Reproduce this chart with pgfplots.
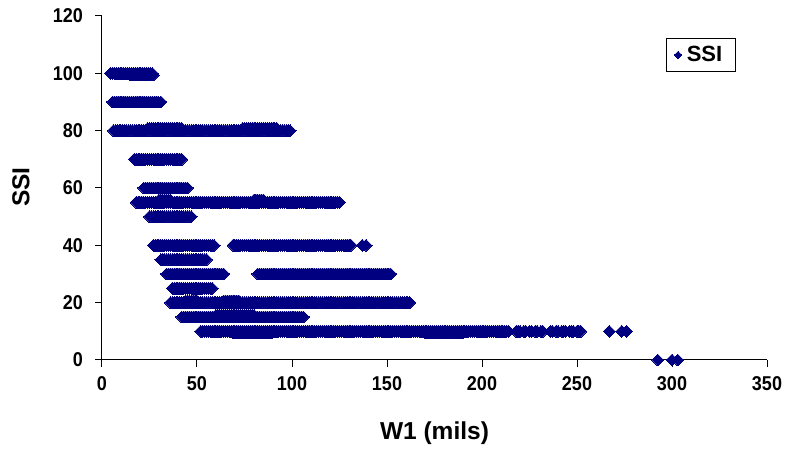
\documentclass[border=0pt]{standalone}
\usepackage{pgfplots}
\pgfplotsset{compat=1.18}
\usepackage{fontspec}
\setmainfont{Liberation Sans}
\newfontfamily\tickfont[FakeStretch=0.9]{Liberation Sans}
\definecolor{navy}{RGB}{0,0,128}
\begin{document}
\begin{tikzpicture}
\path[use as bounding box] (-102pt,-97pt) rectangle (688pt,360pt);
\begin{axis}[
 scale only axis, width=665pt, height=344pt,
 xmin=0, xmax=350, ymin=0, ymax=120,
 xtick={0,50,...,350}, ytick={0,20,...,120},
 axis x line*=bottom, axis y line*=left,
 axis line style={line width=1pt,-},
 tick align=outside, major tick length=7pt,
 tick style={line width=1pt,black},
 /pgf/number format/assume math mode=true,
 ticklabel style={font=\tickfont\bfseries\fontsize{20}{20}\selectfont},
 yticklabel style={inner sep=0pt, anchor=east, xshift=-12pt},
 xticklabel style={inner sep=0pt, anchor=north, yshift=-9pt},
 xlabel={W1 (mils)}, ylabel={SSI},
 label style={font=\bfseries\fontsize{24.5}{25}\selectfont},
 xlabel style={at={(axis description cs:0.5,0)}, anchor=base, yshift=-80pt},
 ylabel style={at={(axis description cs:0,0.5)}, anchor=center, yshift=81pt, xshift=1pt},
 clip=false,
 legend style={at={(0.953,0.936)}, anchor=north east, draw=black, line width=1pt,
   font=\bfseries\fontsize{22}{22}\selectfont, inner xsep=8pt, inner ysep=6pt,
   nodes={inner xsep=5pt}},
 legend cell align=left,
]
\addplot[only marks, mark=square*, mark size=4.2pt, mark options={rotate=45, fill=navy, draw=navy, line width=0pt}, color=navy,
 legend image post style={mark size=2.6pt}]
coordinates {
% SSI = 100
(4.5,100)(5.5,100)(6.5,100)(7.5,100)(8.5,100)(9.5,100)(10.5,100)(11.5,100)(12.5,100)(13.5,100)(14.5,100)(15.5,100)
(16.5,100)(17.5,100)(18.5,100)(19.5,100)(20.5,100)(21.5,100)(22.5,100)(23.5,100)(24.5,100)(25.5,100)(26.5,100)
(15,99.4)(16,99.4)(17,99.4)(18,99.4)(19,99.4)(20,99.4)(21,99.4)(22,99.4)(23,99.4)(24,99.4)(25,99.4)(26,99.4)(27,99.4)
% SSI = 90
(5.5,90)(6.5,90)(7.5,90)(8.5,90)(9.5,90)(10.5,90)(11.5,90)(12.5,90)(13.5,90)(14.5,90)(15.5,90)(16.5,90)(17.5,90)
(18.5,90)(19.5,90)(20.5,90)(21.5,90)(22.5,90)(23.5,90)(24.5,90)(25.5,90)(26.5,90)(27.5,90)(28.5,90)(29.5,90)(31,90)
% SSI = 80
(6,80)(7,80)(8,80)(9,80)(10,80)(11,80)(12,80)(13,80)(14,80)(15,80)(16,80)(17,80)(18,80)(19,80)(20,80)(21,80)(22,80)
(23,80)(24,80)(25,80)(26,80)(27,80)(28,80)(29,80)(30,80)(31,80)(32,80)(33,80)(34,80)(35,80)(36,80)(37,80)(38,80)(39,80)
(40,80)(41,80)(42,80)(43,80)(44,80)(45,80)(46,80)(47,80)(48,80)(49,80)(50,80)(51,80)(52,80)(53,80)(54,80)(55,80)(56,80)
(57,80)(58,80)(59,80)(60,80)(61,80)(62,80)(63,80)(64,80)(65,80)(66,80)(67,80)(68,80)(69,80)(70,80)(71,80)(72,80)(73,80)
(74,80)(75,80)(76,80)(77,80)(78,80)(79,80)(80,80)(81,80)(82,80)(83,80)(84,80)(85,80)(86,80)(87,80)(88,80)(89,80)(90,80)
(91,80)(92,80)(93,80)(94,80)(95,80)(96,80)(97,80)(98,80)(99,80)
(24,80.8)(25,80.8)(26,80.8)(27,80.8)(28,80.8)(29,80.8)(30,80.8)(31,80.8)(32,80.8)(33,80.8)(34,80.8)(35,80.8)(36,80.8)
(37,80.8)(38,80.8)(39,80.8)(40,80.8)(41,80.8)(42,80.8)
(74,80.8)(75,80.8)(76,80.8)(77,80.8)(78,80.8)(79,80.8)(80,80.8)(81,80.8)(82,80.8)(83,80.8)(84,80.8)(85,80.8)(86,80.8)
(87,80.8)(88,80.8)(89,80.8)(90,80.8)(91,80.8)(92,80.8)
% SSI = 70
(17,70)(18,70)(19,70)(20,70)(21,70)(22,70)(23,70)(24,70)(25,70)(26,70)(27,70)(28,70)(29,70)(30,70)(31,70)(32,70)(33,70)
(34,70)(35,70)(36,70)(37,70)(38,70)(39,70)(40,70)(41,70)(42,70)
% SSI = 60
(22,60)(23,60)(24,60)(25,60)(26,60)(27,60)(28,60)(29,60)(30,60)(31,60)(32,60)(33,60)(34,60)(35,60)(36,60)(37,60)(38,60)
(39,60)(40,60)(41,60)(42,60)(43,60)(44,60)(45,60)
% SSI = 55
(18,55)(19,55)(20,55)(21,55)(22,55)(23,55)(24,55)(25,55)(26,55)(27,55)(28,55)(29,55)(30,55)(31,55)(32,55)(33,55)(34,55)
(35,55)(36,55)(37,55)(38,55)(39,55)(40,55)(41,55)(42,55)(43,55)(44,55)(45,55)(46,55)(47,55)(48,55)(49,55)(50,55)(51,55)
(52,55)(53,55)(54,55)(55,55)(56,55)(57,55)(58,55)(59,55)(60,55)(61,55)(62,55)(63,55)(64,55)(65,55)(66,55)(67,55)(68,55)
(69,55)(70,55)(71,55)(72,55)(73,55)(74,55)(75,55)(76,55)(77,55)(78,55)(79,55)(80,55)(81,55)(82,55)(83,55)(84,55)(85,55)
(86,55)(87,55)(88,55)(89,55)(90,55)(91,55)(92,55)(93,55)(94,55)(95,55)(96,55)(97,55)(98,55)(99,55)(100,55)(101,55)
(102,55)(103,55)(104,55)(105,55)(106,55)(107,55)(108,55)(109,55)(110,55)(111,55)(112,55)(113,55)(114,55)(115,55)
(116,55)(117,55)(118,55)(119,55)(120,55)(121,55)(122,55)(123,55)(124,55)(125,55)
(30,55.8)(31,55.8)(32,55.8)(33,55.8)(34,55.8)(35,55.8)(36,55.8)(80,55.8)(81,55.8)(82,55.8)(83,55.8)(84,55.8)(85,55.8)
% SSI = 50
(25,50)(26,50)(27,50)(28,50)(29,50)(30,50)(31,50)(32,50)(33,50)(34,50)(35,50)(36,50)(37,50)(38,50)(39,50)(40,50)(41,50)
(42,50)(43,50)(44,50)(45,50)(46,50)(47,50)
% SSI = 40
(27,40)(28,40)(29,40)(30,40)(31,40)(32,40)(33,40)(34,40)(35,40)(36,40)(37,40)(38,40)(39,40)(40,40)(41,40)(42,40)(43,40)
(44,40)(45,40)(46,40)(47,40)(48,40)(49,40)(50,40)(51,40)(52,40)(53,40)(54,40)(55,40)(56,40)(57,40)(58,40)(59,40)
(69,40)(70,40)(71,40)(72,40)(73,40)(74,40)(75,40)(76,40)(77,40)(78,40)(79,40)(80,40)(81,40)(82,40)(83,40)(84,40)(85,40)
(86,40)(87,40)(88,40)(89,40)(90,40)(91,40)(92,40)(93,40)(94,40)(95,40)(96,40)(97,40)(98,40)(99,40)(100,40)(101,40)
(102,40)(103,40)(104,40)(105,40)(106,40)(107,40)(108,40)(109,40)(110,40)(111,40)(112,40)(113,40)(114,40)(115,40)
(116,40)(117,40)(118,40)(119,40)(120,40)(121,40)(122,40)(123,40)(124,40)(125,40)(126,40)(127,40)(128,40)(129,40)
(130,40)(131,40)(137,40)(139,40)
% SSI = 35
(31,35)(32,35)(33,35)(34,35)(35,35)(36,35)(37,35)(38,35)(39,35)(40,35)(41,35)(42,35)(43,35)(44,35)(45,35)(46,35)(47,35)
(48,35)(49,35)(50,35)(51,35)(52,35)(53,35)(54,35)(55,35)
% SSI = 30
(34,30)(35,30)(36,30)(37,30)(38,30)(39,30)(40,30)(41,30)(42,30)(43,30)(44,30)(45,30)(46,30)(47,30)(48,30)(49,30)(50,30)
(51,30)(52,30)(53,30)(54,30)(55,30)(56,30)(57,30)(58,30)(59,30)(60,30)(61,30)(62,30)(63,30)(64,30)
(82,30)(83,30)(84,30)(85,30)(86,30)(87,30)(88,30)(89,30)(90,30)(91,30)(92,30)(93,30)(94,30)(95,30)(96,30)(97,30)(98,30)
(99,30)(100,30)(101,30)(102,30)(103,30)(104,30)(105,30)(106,30)(107,30)(108,30)(109,30)(110,30)(111,30)(112,30)
(113,30)(114,30)(115,30)(116,30)(117,30)(118,30)(119,30)(120,30)(121,30)(122,30)(123,30)(124,30)(125,30)(126,30)
(127,30)(128,30)(129,30)(130,30)(131,30)(132,30)(133,30)(134,30)(135,30)(136,30)(137,30)(138,30)(139,30)(140,30)
(141,30)(142,30)(143,30)(144,30)(145,30)(146,30)(147,30)(148,30)(149,30)(150,30)(151,30)(152,30)
% SSI = 25
(37,25)(38,25)(39,25)(40,25)(41,25)(42,25)(43,25)(44,25)(45,25)(46,25)(47,25)(48,25)(49,25)(50,25)(51,25)(52,25)(53,25)
(54,25)(55,25)(56,25)(57,25)(58,25)
% SSI = 20
(36,20)(37,20)(38,20)(39,20)(40,20)(41,20)(42,20)(43,20)(44,20)(45,20)(46,20)(47,20)(48,20)(49,20)(50,20)(51,20)(52,20)
(53,20)(54,20)(55,20)(56,20)(57,20)(58,20)(59,20)(60,20)(61,20)(62,20)(63,20)(64,20)(65,20)(66,20)(67,20)(68,20)(69,20)
(70,20)(71,20)(72,20)(73,20)(74,20)(75,20)(76,20)(77,20)(78,20)(79,20)(80,20)(81,20)(82,20)(83,20)(84,20)(85,20)(86,20)
(87,20)(88,20)(89,20)(90,20)(91,20)(92,20)(93,20)(94,20)(95,20)(96,20)(97,20)(98,20)(99,20)(100,20)(101,20)(102,20)
(103,20)(104,20)(105,20)(106,20)(107,20)(108,20)(109,20)(110,20)(111,20)(112,20)(113,20)(114,20)(115,20)(116,20)
(117,20)(118,20)(119,20)(120,20)(121,20)(122,20)(123,20)(124,20)(125,20)(126,20)(127,20)(128,20)(129,20)(130,20)
(131,20)(132,20)(133,20)(134,20)(135,20)(136,20)(137,20)(138,20)(139,20)(140,20)(141,20)(142,20)(143,20)(144,20)
(145,20)(146,20)(147,20)(148,20)(149,20)(150,20)(151,20)(152,20)(153,20)(154,20)(155,20)(156,20)(157,20)(158,20)
(159,20)(160,20)(161,20)(162,20)
(44,20.6)(45,20.6)(46,20.6)(47,20.6)(48,20.6)(49,20.6)(50,20.6)(64,20.6)(65,20.6)(66,20.6)(67,20.6)(68,20.6)(69,20.6)
(70,20.6)(71,20.6)(72,20.6)
% SSI = 15
(42,15)(43,15)(44,15)(45,15)(46,15)(47,15)(48,15)(49,15)(50,15)(51,15)(52,15)(53,15)(54,15)(55,15)(56,15)(57,15)(58,15)
(59,15)(60,15)(61,15)(62,15)(63,15)(64,15)(65,15)(66,15)(67,15)(68,15)(69,15)(70,15)(71,15)(72,15)(73,15)(74,15)(75,15)
(76,15)(77,15)(78,15)(79,15)(80,15)(81,15)(82,15)(83,15)(84,15)(85,15)(86,15)(87,15)(88,15)(89,15)(90,15)(91,15)(92,15)
(93,15)(94,15)(95,15)(96,15)(97,15)(98,15)(99,15)(100,15)(101,15)(102,15)(103,15)(104,15)(105,15)(106,15)
(60,15.6)(61,15.6)(62,15.6)(63,15.6)(64,15.6)(65,15.6)(66,15.6)(67,15.6)(68,15.6)(69,15.6)(70,15.6)(71,15.6)(72,15.6)
(73,15.6)(74,15.6)(75,15.6)(76,15.6)(77,15.6)(78,15.6)(79,15.6)(80,15.6)
% SSI = 10
(52,10)(53,10)(54,10)(55,10)(56,10)(57,10)(58,10)(59,10)(60,10)(61,10)(62,10)(63,10)(64,10)(65,10)(66,10)(67,10)(68,10)
(69,10)(70,10)(71,10)(72,10)(73,10)(74,10)(75,10)(76,10)(77,10)(78,10)(79,10)(80,10)(81,10)(82,10)(83,10)(84,10)(85,10)
(86,10)(87,10)(88,10)(89,10)(90,10)(91,10)(92,10)(93,10)(94,10)(95,10)(96,10)(97,10)(98,10)(99,10)(100,10)(101,10)
(102,10)(103,10)(104,10)(105,10)(106,10)(107,10)(108,10)(109,10)(110,10)(111,10)(112,10)(113,10)(114,10)(115,10)
(116,10)(117,10)(118,10)(119,10)(120,10)(121,10)(122,10)(123,10)(124,10)(125,10)(126,10)(127,10)(128,10)(129,10)
(130,10)(131,10)(132,10)(133,10)(134,10)(135,10)(136,10)(137,10)(138,10)(139,10)(140,10)(141,10)(142,10)(143,10)
(144,10)(145,10)(146,10)(147,10)(148,10)(149,10)(150,10)(151,10)(152,10)(153,10)(154,10)(155,10)(156,10)(157,10)
(158,10)(159,10)(160,10)(161,10)(162,10)(163,10)(164,10)(165,10)(166,10)(167,10)(168,10)(169,10)(170,10)(171,10)
(172,10)(173,10)(174,10)(175,10)(176,10)(177,10)(178,10)(179,10)(180,10)(181,10)(182,10)(183,10)(184,10)(185,10)
(186,10)(187,10)(188,10)(189,10)(190,10)(191,10)(192,10)(193,10)(194,10)(195,10)(196,10)(197,10)(198,10)(199,10)
(200,10)(201,10)(202,10)(203,10)(204,10)(205,10)(206,10)(207,10)(208,10)(209,10)(210,10)(211,10)(212,10)(213,10)
(214,10)(218,10)(219,10)(220,10)(222,10)(223,10)(225,10)(226,10)(228,10)(229,10)(231,10)(232,10)
(236,10)(237,10)(239,10)(240,10)(242,10)(243,10)(244,10)(246,10)(247,10)(248,10)(250,10)(251,10)(252,10)
(69,9.4)(70,9.4)(71,9.4)(72,9.4)(73,9.4)(74,9.4)(75,9.4)(76,9.4)(77,9.4)(78,9.4)(79,9.4)(80,9.4)(81,9.4)(82,9.4)(83,9.4)
(84,9.4)(85,9.4)(86,9.4)(87,9.4)(88,9.4)(89,9.4)
(170,9.5)(171,9.5)(172,9.5)(173,9.5)(174,9.5)(175,9.5)(176,9.5)(177,9.5)(178,9.5)(179,9.5)(180,9.5)(181,9.5)(182,9.5)
(183,9.5)(184,9.5)(185,9.5)(186,9.5)(187,9.5)(188,9.5)(189,9.5)(190,9.5)
(267,10)(273.5,10)(276,10)
% SSI = 0
(292.5,0)(300,0)(303,0)
};
\addlegendentry{SSI}
\end{axis}
\end{tikzpicture}
\end{document}
